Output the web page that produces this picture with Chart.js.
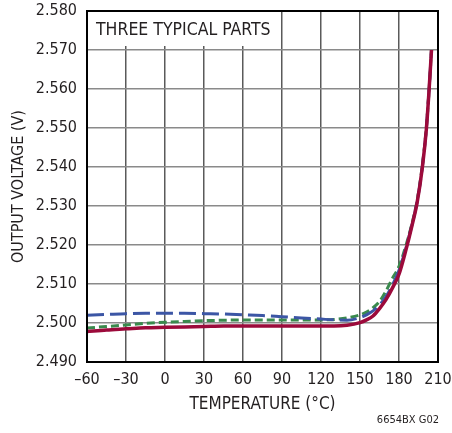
<!DOCTYPE html>
<html>
<head>
<meta charset="utf-8">
<script src="https://cdn.jsdelivr.net/npm/chart.js@4.4.1/dist/chart.umd.min.js"></script>
<style>
  html, body { margin: 0; padding: 0; background: #fff; }
  canvas { display: block; }
</style>
</head>
<body>
<canvas id="tempChart" width="452" height="433"></canvas>
<script>
// temperature points (°C) shared by all three parts
const tempC = [-60, -45, -30, -15, 0, 15, 30, 45, 60, 75, 90, 105, 120, 130, 140,
  150, 155, 160, 165, 170, 175, 180, 185, 190, 194, 198, 201, 203, 205];

// output voltage (V), one array per part
const partRed = [2.4978, 2.4982, 2.4985, 2.4988, 2.4989, 2.4990, 2.4991, 2.4992, 2.4992, 2.4992, 2.4992, 2.4992, 2.4992, 2.4992, 2.4994,
  2.5001, 2.5008, 2.5018, 2.5037, 2.5060, 2.5090, 2.5125, 2.5183, 2.5250, 2.5310, 2.5400, 2.5495, 2.5590, 2.5700];
const partBlue = [2.5020, 2.5022, 2.5024, 2.5025, 2.5025, 2.5025, 2.5024, 2.5023, 2.5021, 2.5019, 2.5016, 2.5013, 2.5010, 2.5008, 2.5007,
  2.5014, 2.5021, 2.5031, 2.5046, 2.5068, 2.5098, 2.5135, 2.5188, 2.5252, 2.5312, 2.5402, 2.5497, 2.5591, 2.5700];
const partGreen = [2.4987, 2.4991, 2.4995, 2.4999, 2.5002, 2.5004, 2.5006, 2.5007, 2.5008, 2.5008, 2.5008, 2.5008, 2.5008, 2.5009, 2.5013,
  2.5021, 2.5028, 2.5039, 2.5055, 2.5082, 2.5115, 2.5145, 2.5195, 2.5255, 2.5315, 2.5405, 2.5500, 2.5592, 2.5700];

// axis ticks
const xMin = -60, xMax = 210, xStep = 30;
const yMin = 2.49, yMax = 2.58, yStep = 0.01;

const FONT = "'Liberation Sans Narrow', 'DejaVu Sans Condensed', 'Roboto', sans-serif";
const TEXT = '#231f20';

function toPoints(vals) {
    return tempC.map((t, i) => ({ x: t, y: vals[i] }));
}

// 边框 + 左上角标注
const framePlugin = {
    id: 'frame',
    beforeDatasetsDraw(chart) {
        const { ctx, chartArea, scales } = chart;
        const boxRight = scales.x.getPixelForValue(90) - 1;
        const boxBottom = scales.y.getPixelForValue(2.57) - 4;
        ctx.save();
        ctx.fillStyle = '#fff';
        ctx.fillRect(chartArea.left + 1, chartArea.top + 1, boxRight - chartArea.left - 1, boxBottom - chartArea.top - 1);
        ctx.fillStyle = TEXT;
        ctx.font = '17.5px ' + FONT;
        ctx.textBaseline = 'middle';
        ctx.textAlign = 'left';
        ctx.fillText('THREE TYPICAL PARTS', chartArea.left + 9, 30);
        ctx.restore();
    },
    afterDatasetsDraw(chart) {
        const { ctx, chartArea } = chart;
        ctx.save();
        ctx.strokeStyle = '#000';
        ctx.lineWidth = 2;
        ctx.strokeRect(chartArea.left, chartArea.top, chartArea.right - chartArea.left, chartArea.bottom - chartArea.top);
        ctx.fillStyle = TEXT;
        ctx.font = '11px ' + FONT;
        ctx.textAlign = 'right';
        ctx.textBaseline = 'middle';
        ctx.fillText('6654BX G02', 439, 420);
        ctx.restore();
    }
};

new Chart(document.getElementById('tempChart'), {
    type: 'line',
    data: {
        datasets: [
            { label: 'Part 3', data: toPoints(partRed), borderColor: '#9c0a3b', borderWidth: 3.5 },
            { label: 'Part 1', data: toPoints(partBlue), borderColor: '#3c56a5', borderWidth: 3, borderDash: [17, 6] },
            { label: 'Part 2', data: toPoints(partGreen), borderColor: '#3a8a4d', borderWidth: 3, borderDash: [8, 4] }
        ]
    },
    options: {
        responsive: false,
        animation: false,
        layout: { padding: { top: 11, right: 14, left: 0, bottom: 0 } },
        elements: {
            point: { radius: 0 },
            line: { cubicInterpolationMode: 'monotone', borderCapStyle: 'butt', fill: false }
        },
        scales: {
            x: {
                type: 'linear',
                min: xMin,
                max: xMax,
                afterFit: s => { s.height = 71; s.paddingLeft = 0; s.paddingRight = 0; },
                ticks: {
                    stepSize: xStep,
                    padding: 8,
                    color: TEXT,
                    font: { family: FONT, size: 16 },
                    callback: v => v < 0 ? '\u2013' + Math.abs(v) : String(v)
                },
                grid: { color: '#5a5a5a', lineWidth: 1.5, drawTicks: false },
                border: { color: '#000', width: 2 },
                title: {
                    display: true,
                    text: 'TEMPERATURE (°C)',
                    color: TEXT,
                    font: { family: FONT, size: 17 },
                    padding: { top: 0, bottom: 18 }
                }
            },
            y: {
                min: yMin,
                max: yMax,
                afterFit: s => { s.width = 87; s.paddingTop = 0; s.paddingBottom = 0; },
                ticks: {
                    stepSize: yStep,
                    padding: 10,
                    color: TEXT,
                    font: { family: FONT, size: 16 },
                    callback: v => Number(v).toFixed(3)
                },
                grid: { color: '#8a8a8a', lineWidth: 1.5, drawTicks: false },
                border: { color: '#000', width: 2 },
                title: {
                    display: true,
                    text: 'OUTPUT VOLTAGE (V)',
                    color: TEXT,
                    font: { family: FONT, size: 16 },
                    padding: { top: 9, bottom: 0 }
                }
            }
        },
        plugins: {
            legend: { display: false },
            tooltip: { enabled: false }
        }
    },
    plugins: [framePlugin]
});
</script>
</body>
</html>
